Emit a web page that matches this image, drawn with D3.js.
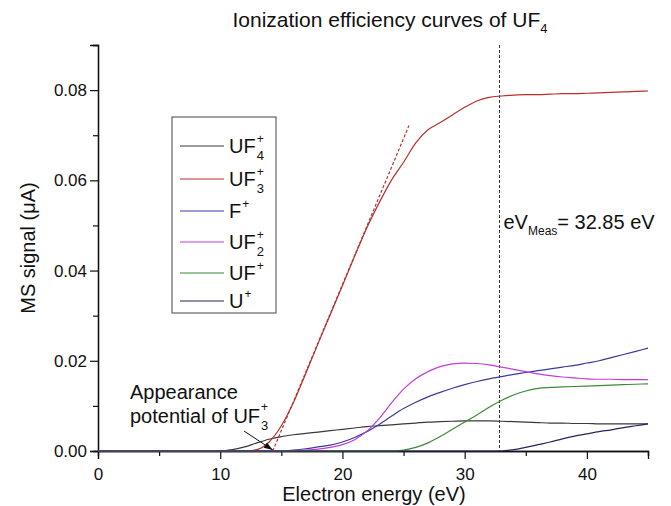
<!DOCTYPE html>
<html>
<head>
<meta charset="utf-8">
<script src="https://cdn.jsdelivr.net/npm/d3@7"></script>
<style>
  body { margin: 0; background: #fff; }
  svg text { font-family: "Liberation Sans", Arial, sans-serif; fill: #111; }
</style>
</head>
<body>
<div id="chart"></div>
<script>
// electron energy grid (eV)
var energy = [0, 10, 11, 12, 13, 14, 15, 16, 17, 18, 19, 20, 21, 22, 23, 24, 25, 26, 27, 28,
              29, 30, 31, 32, 33, 34, 35, 36, 37, 38, 39, 40, 41, 42, 43, 44, 45];

// MS signal (uA) per ion
var uf4 = [0, 0, 0.0003, 0.0009, 0.0018, 0.0026, 0.0032, 0.0036, 0.0039, 0.0042, 0.0045, 0.0048,
           0.0051, 0.0054, 0.0056, 0.0058, 0.006, 0.0062, 0.0064, 0.0065, 0.0066, 0.0067, 0.0067,
           0.0067, 0.0066, 0.0065, 0.0064, 0.0063, 0.0062, 0.0062, 0.0061, 0.0061, 0.006, 0.006,
           0.006, 0.006, 0.006];
var uf3 = [0, 0, 0, 0, 0.0003, 0.002, 0.0056, 0.0108, 0.0172, 0.0238, 0.0302, 0.0367, 0.0432,
           0.0495, 0.055, 0.06, 0.064, 0.0683, 0.0712, 0.0728, 0.0745, 0.0762, 0.0776, 0.0784,
           0.0787, 0.0789, 0.079, 0.079, 0.0791, 0.0792, 0.0792, 0.0793, 0.0794, 0.0795, 0.0796,
           0.0797, 0.0798];
var fPlus = [0, 0, 0, 0, 0, 0, 0, 0.0002, 0.0005, 0.0009, 0.0013, 0.002, 0.003, 0.0043, 0.0059,
             0.0077, 0.0094, 0.0108, 0.012, 0.013, 0.0139, 0.0147, 0.0154, 0.016, 0.0165, 0.017,
             0.0174, 0.0178, 0.0182, 0.0186, 0.019, 0.0195, 0.02, 0.0207, 0.0214, 0.0221, 0.0228];
var uf2 = [0, 0, 0, 0, 0, 0, 0, 0.0001, 0.0002, 0.0004, 0.0008, 0.0014, 0.0025, 0.0044, 0.0072,
           0.0106, 0.0137, 0.016, 0.0176, 0.0187, 0.0193, 0.0195, 0.0194, 0.0191, 0.0186, 0.0181,
           0.0176, 0.0171, 0.0167, 0.0164, 0.0162, 0.016, 0.0159, 0.0159, 0.0158, 0.0158, 0.0158];
var uf1 = [0, 0, 0, 0, 0, 0, 0, 0, 0, 0, 0, 0, 0, 0, 0, 0, 0.0002, 0.0008, 0.0018, 0.0032, 0.0048,
           0.0064, 0.008, 0.0097, 0.0112, 0.0124, 0.0133, 0.0139, 0.0141, 0.0142, 0.0143, 0.0144,
           0.0145, 0.0146, 0.0147, 0.0148, 0.0149];
var uPlus = [0, 0, 0, 0, 0, 0, 0, 0, 0, 0, 0, 0, 0, 0, 0, 0, 0, 0, 0, 0, 0, 0, 0, 0, 0, 0.0003,
             0.0008, 0.0014, 0.002, 0.0027, 0.0033, 0.0038, 0.0043, 0.0047, 0.0052, 0.0056, 0.006];

var seriesNames = [["UF", "+", "4"], ["UF", "+", "3"], ["F", "+", ""], ["UF", "+", "2"], ["UF", "+", ""], ["U", "+", ""]];
var seriesValues = [uf4, uf3, fPlus, uf2, uf1, uPlus];
var seriesColors = ["#3a3a3a", "#b5302f", "#3a3a9e", "#c23ed6", "#3d8a35", "#25255e"];

// linear fit used for the appearance potential
var fitE = [14.3, 25.5];
var fitV = [0, 0.0725];
var eMeas = 32.85;

var xTicks = [0, 10, 20, 30, 40];
var yTicks = [0, 0.02, 0.04, 0.06, 0.08];

var W = 671, H = 506;
var margin = {left: 98, right: 23, top: 45, bottom: 55};

var svg = d3.select("#chart").append("svg")
    .attr("width", W)
    .attr("height", H);

var x = d3.scaleLinear().domain([0, 45]).range([margin.left, W - margin.right]);
var y = d3.scaleLinear().domain([0, 0.09]).range([H - margin.bottom, margin.top]);

// title
var title = svg.append("text")
    .attr("x", 390)
    .attr("y", 27)
    .attr("text-anchor", "middle")
    .style("font-size", "21px");
title.append("tspan").text("Ionization efficiency curves of UF");
title.append("tspan").attr("dy", 6).style("font-size", "13px").text("4");

// axes
var xAxis = svg.append("g")
    .attr("transform", "translate(0," + y(0) + ")")
    .call(d3.axisBottom(x).tickValues(xTicks).tickSize(8).tickFormat(d3.format("d")));
svg.append("g")
    .attr("transform", "translate(0," + y(0) + ")")
    .call(d3.axisBottom(x).tickValues([5, 15, 25, 35, 45]).tickSize(5).tickFormat(""));

var yAxis = svg.append("g")
    .attr("transform", "translate(" + x(0) + ",0)")
    .call(d3.axisLeft(y).tickValues(yTicks).tickSize(8).tickFormat(d3.format(".2f")));
svg.append("g")
    .attr("transform", "translate(" + x(0) + ",0)")
    .call(d3.axisLeft(y).tickValues([0.01, 0.03, 0.05, 0.07, 0.09]).tickSize(5).tickFormat(""));

svg.selectAll(".domain").attr("stroke", "#111").attr("stroke-width", 1.3);
svg.selectAll(".tick line").attr("stroke", "#111").attr("stroke-width", 1.2);
svg.selectAll(".tick text").style("font-size", "17px").attr("fill", "#111")
    .attr("font-family", "Liberation Sans, Arial, sans-serif");
xAxis.selectAll(".tick text").attr("dy", "1.05em");

svg.append("text")
    .attr("x", 374)
    .attr("y", 501)
    .attr("text-anchor", "middle")
    .style("font-size", "20px")
    .text("Electron energy (eV)");

svg.append("text")
    .attr("transform", "translate(35," + y(0.045) + ") rotate(-90)")
    .attr("text-anchor", "middle")
    .style("font-size", "20px")
    .text("MS signal (\u03bcA)");

// vertical marker at measuring energy
svg.append("line")
    .attr("x1", x(eMeas)).attr("x2", x(eMeas))
    .attr("y1", y(0.09)).attr("y2", y(0))
    .attr("stroke", "#333")
    .attr("stroke-width", 1)
    .attr("stroke-dasharray", "3,2");

var meas = svg.append("text")
    .attr("x", x(eMeas) + 4)
    .attr("y", 229)
    .style("font-size", "20px");
meas.append("tspan").text("eV");
meas.append("tspan").attr("dy", 6).style("font-size", "12px").text("Meas");
meas.append("tspan").attr("dy", -6).text("= 32.85 eV");

// curves
var line = d3.line()
    .x(function(d) { return x(d[0]); })
    .y(function(d) { return y(d[1]); })
    .curve(d3.curveMonotoneX);

seriesValues.forEach(function(vals, i) {
    svg.append("path")
        .datum(energy.map(function(e, j) { return [e, vals[j]]; }))
        .attr("fill", "none")
        .attr("stroke", seriesColors[i])
        .attr("stroke-width", 1.2)
        .attr("d", line);
});

// tangent fit
svg.append("line")
    .attr("x1", x(fitE[0])).attr("y1", y(fitV[0]))
    .attr("x2", x(fitE[1])).attr("y2", y(fitV[1]))
    .attr("stroke", seriesColors[1])
    .attr("stroke-width", 1.2)
    .attr("stroke-dasharray", "3,2");

// legend
var legendRows = [146, 179, 211, 242, 273, 301];
var legend = svg.append("g");
legend.append("rect")
    .attr("x", 172).attr("y", 117)
    .attr("width", 104).attr("height", 196)
    .attr("fill", "#fff")
    .attr("stroke", "#444")
    .attr("stroke-width", 1);

seriesNames.forEach(function(nm, i) {
    var ly = legendRows[i];
    legend.append("line")
        .attr("x1", 180).attr("x2", 224)
        .attr("y1", ly).attr("y2", ly)
        .attr("stroke", seriesColors[i])
        .attr("stroke-width", 1.2);
    var t = legend.append("text")
        .attr("x", 229).attr("y", ly + 7)
        .style("font-size", "20px")
        .text(nm[0]);
    var w = t.node().getComputedTextLength();
    legend.append("text")
        .attr("x", 230 + w).attr("y", ly - 3)
        .style("font-size", "12px")
        .text(nm[1]);
    if (nm[2]) {
        legend.append("text")
            .attr("x", 230 + w).attr("y", ly + 14)
            .style("font-size", "13px")
            .text(nm[2]);
    }
});

// appearance potential annotation
svg.append("defs").append("marker")
    .attr("id", "arrow")
    .attr("viewBox", "0 0 10 10")
    .attr("refX", 10).attr("refY", 5)
    .attr("markerWidth", 9).attr("markerHeight", 9)
    .attr("orient", "auto")
    .append("path")
    .attr("d", "M0,1.5 L10,5 L0,8.5 Z")
    .attr("fill", "#111");

svg.append("line")
    .attr("x1", 244).attr("y1", 431)
    .attr("x2", x(fitE[0])).attr("y2", y(0) - 1)
    .attr("stroke", "#111")
    .attr("stroke-width", 1)
    .attr("marker-end", "url(#arrow)");

svg.append("text")
    .attr("x", 130).attr("y", 399)
    .style("font-size", "20px")
    .text("Appearance");
var ap = svg.append("text")
    .attr("x", 130).attr("y", 423)
    .style("font-size", "20px");
ap.append("tspan").text("potential of UF");
var apw = ap.node().getComputedTextLength();
svg.append("text")
    .attr("x", 131 + apw).attr("y", 411)
    .style("font-size", "12px")
    .text("+");
svg.append("text")
    .attr("x", 131 + apw).attr("y", 430)
    .style("font-size", "13px")
    .text("3");
</script>
</body>
</html>
